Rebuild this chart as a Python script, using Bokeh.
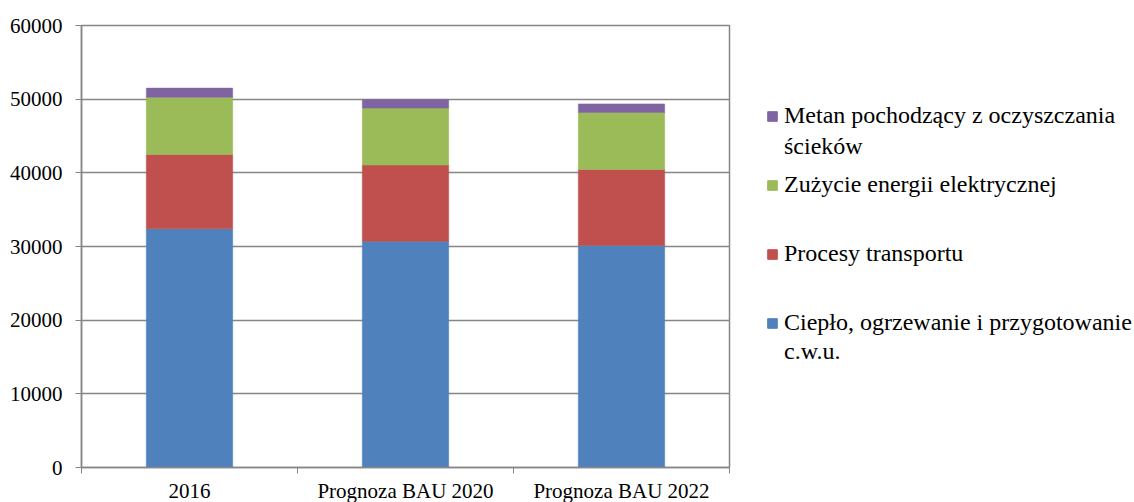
from bokeh.plotting import figure
from bokeh.layouts import row
from bokeh.models import (ColumnDataSource, FixedTicker, Legend, LegendItem, Range1d)
from bokeh.embed import file_html
from bokeh.resources import INLINE

categories = ["2016", "Prognoza BAU 2020", "Prognoza BAU 2022"]
series_names = ["Ciepło, ogrzewanie i przygotowanie\nc.w.u.",
                "Procesy transportu",
                "Zużycie energii elektrycznej",
                "Metan pochodzący z oczyszczania\nścieków"]
cieplo = [32400, 30700, 30150]
transport = [10100, 10350, 10310]
energia = [7770, 7740, 7730]
metan = [1230, 1170, 1170]
colors = ["#4F81BD", "#C0504D", "#9BBB59", "#8064A2"]
y_ticks = [0, 10000, 20000, 30000, 40000, 50000, 60000]

keys = ["cieplo", "transport", "energia", "metan"]
xpos = [i + 0.5 for i in range(len(categories))]
src = ColumnDataSource(dict(x=xpos, cieplo=cieplo, transport=transport,
                            energia=energia, metan=metan))

FONT = "Liberation Serif"
GRID = "#868686"

p = figure(frame_width=648, frame_height=442, output_backend="svg", toolbar_location=None,
           x_range=Range1d(0, len(categories)), y_range=Range1d(0, 60000),
           min_border_left=81, min_border_right=30, min_border_top=25,
           min_border_bottom=35)

renderers = p.vbar_stack(keys, x="x", width=0.4, source=src, color=colors,
                         line_color=colors, line_width=0.5)

p.xaxis.ticker = FixedTicker(ticks=xpos, minor_ticks=list(range(len(categories) + 1)))
p.xaxis.major_label_overrides = {x: c for x, c in zip(xpos, categories)}
p.xaxis.major_tick_line_color = None
p.xaxis.minor_tick_in = 0
p.xaxis.minor_tick_out = 6
p.xaxis.minor_tick_line_color = GRID
p.xaxis.axis_line_color = GRID
p.xaxis.axis_line_width = 1.5
p.xaxis.major_label_text_font = FONT
p.xaxis.major_label_text_font_size = "21px"
p.xaxis.major_label_text_color = "black"
p.xaxis.major_label_standoff = 5

p.yaxis.ticker = FixedTicker(ticks=y_ticks)
p.yaxis.minor_tick_line_color = None
p.yaxis.major_tick_in = 0
p.yaxis.major_tick_out = 6
p.yaxis.major_tick_line_color = GRID
p.yaxis.axis_line_color = GRID
p.yaxis.axis_line_width = 1.5
p.yaxis.major_label_text_font = FONT
p.yaxis.major_label_text_font_size = "21px"
p.yaxis.major_label_text_color = "black"
p.yaxis.major_label_standoff = 13

p.xgrid.grid_line_color = None
p.ygrid.grid_line_color = GRID
p.ygrid.grid_line_width = 1.5
p.outline_line_color = GRID
p.outline_line_width = 1.5

# legend panel (separate figure so that the legend is not clipped by the frame)
lf = figure(width=375, height=502, output_backend="svg", toolbar_location=None,
            x_range=Range1d(0, 1), y_range=Range1d(0, 1),
            x_axis_location=None, y_axis_location=None, min_border=0)
lf.outline_line_color = None
lf.xgrid.visible = False
lf.ygrid.visible = False

# hidden copies of the series, only used for the legend swatches
swatches = lf.vbar_stack(keys, x="x", width=0.4, source=src, color=colors,
                         line_color=colors, visible=False)
blank = lf.vbar(x="x", top="metan", width=0.4, source=src,
                fill_alpha=0, line_alpha=0, visible=False)

order = list(reversed(range(len(series_names))))
first_items = [LegendItem(label=series_names[i].split("\n")[0], renderers=[swatches[i]])
               for i in order]
second_items = [LegendItem(label=series_names[i].split("\n")[1], renderers=[blank])
                for i in order if "\n" in series_names[i]]

common = dict(orientation="vertical", glyph_width=12, glyph_height=12, label_standoff=6,
              label_text_font=FONT, label_text_font_size="24px",
              label_text_color="black", label_height=27, padding=0, margin=0,
              border_line_color=None, background_fill_alpha=0,
              inactive_fill_alpha=0)
legend_a = Legend(items=first_items, location=(7, 128), spacing=42, **common)
legend_b = Legend(items=second_items, location=(7, 99), spacing=178, **common)
lf.add_layout(legend_a, "center")
lf.add_layout(legend_b, "center")

open("out.html", "w").write(file_html(row(p, lf), INLINE))
